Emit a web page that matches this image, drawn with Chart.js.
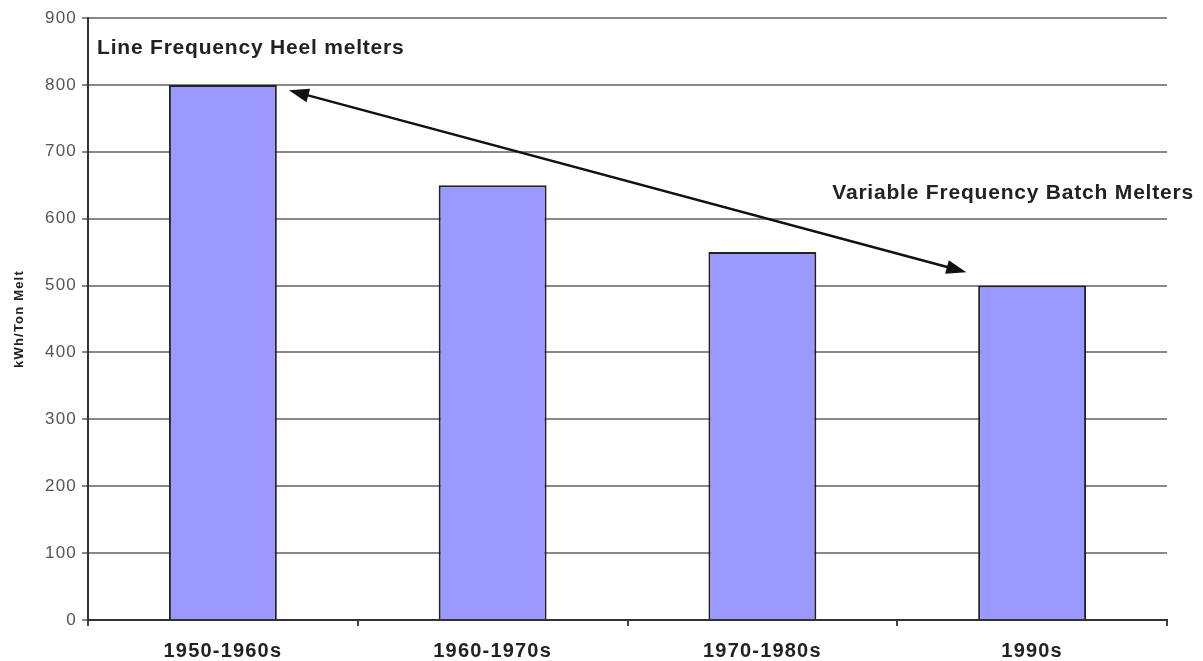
<!DOCTYPE html>
<html>
<head>
<meta charset="utf-8">
<script src="https://cdn.jsdelivr.net/npm/chart.js@4/dist/chart.umd.min.js"></script>
<style>
  html, body { margin: 0; padding: 0; background: #fff; }
  #wrap { width: 1203px; height: 661px; }
</style>
</head>
<body>
<div id="wrap"><canvas id="meltChart" width="1203" height="661"></canvas></div>
<script>
// Energy use per ton melted, by era
const eras = ['1950-1960s', '1960-1970s', '1970-1980s', '1990s'];
const kwhPerTon = [800, 650, 550, 500];
const yTicks = [0, 100, 200, 300, 400, 500, 600, 700, 800, 900];

// arrow ends in data units: [category position, value]
const arrowFrom = [0.245, 792];
const arrowTo = [2.756, 520];

const notes = [
  { text: 'Line Frequency Heel melters', at: [-0.5, 855], dx: 9 },
  { text: 'Variable Frequency Batch Melters', at: [2.5, 638], dx: -65 }
];

const FONT = '"Liberation Sans", Arial, sans-serif';

function head(ctx, x, y, ang) {
  const len = 20, w = 7;
  ctx.beginPath();
  ctx.moveTo(x, y);
  ctx.lineTo(x - len * Math.cos(ang) + w * Math.sin(ang), y - len * Math.sin(ang) - w * Math.cos(ang));
  ctx.lineTo(x - len * Math.cos(ang) - w * Math.sin(ang), y - len * Math.sin(ang) + w * Math.cos(ang));
  ctx.closePath();
  ctx.fill();
}

// slightly wider lettering for all axis text
const spacing = {
  id: 'spacing',
  beforeUpdate(chart) { chart.ctx.letterSpacing = '1.2px'; },
  beforeDraw(chart) { chart.ctx.letterSpacing = '1.2px'; }
};

const annotate = {
  id: 'annotate',
  afterDatasetsDraw(chart) {
    const { ctx, scales: { x, y } } = chart;
    const x1 = x.getPixelForValue(arrowFrom[0]), y1 = y.getPixelForValue(arrowFrom[1]);
    const x2 = x.getPixelForValue(arrowTo[0]), y2 = y.getPixelForValue(arrowTo[1]);
    const ang = Math.atan2(y2 - y1, x2 - x1);
    ctx.save();
    ctx.strokeStyle = '#111';
    ctx.fillStyle = '#111';
    ctx.lineWidth = 2.5;
    ctx.beginPath();
    ctx.moveTo(x1 + 14 * Math.cos(ang), y1 + 14 * Math.sin(ang));
    ctx.lineTo(x2 - 14 * Math.cos(ang), y2 - 14 * Math.sin(ang));
    ctx.stroke();
    head(ctx, x2, y2, ang);
    head(ctx, x1, y1, ang + Math.PI);

    ctx.font = 'bold 21px ' + FONT;
    ctx.letterSpacing = '0.8px';
    ctx.fillStyle = '#222';
    ctx.textBaseline = 'middle';
    ctx.textAlign = 'left';
    notes.forEach(n => {
      ctx.fillText(n.text, x.getPixelForValue(n.at[0]) + n.dx, y.getPixelForValue(n.at[1]));
    });
    ctx.restore();
  }
};

new Chart(document.getElementById('meltChart'), {
  type: 'bar',
  data: {
    labels: eras,
    datasets: [{
      label: 'kWh/Ton Melt',
      data: kwhPerTon,
      backgroundColor: '#9999FF',
      borderColor: '#222',
      borderWidth: 2,
      barPercentage: 0.4,
      categoryPercentage: 1
    }]
  },
  options: {
    responsive: false,
    animation: false,
    layout: { padding: { top: 18, right: 36, left: 12, bottom: 0 } },
    plugins: { legend: { display: false }, tooltip: { enabled: false } },
    scales: {
      x: {
        grid: { display: true, drawOnChartArea: false, offset: true, color: '#444', lineWidth: 2, tickLength: 6 },
        border: { color: '#333', width: 2 },
        ticks: { color: '#222', font: { family: FONT, size: 20, weight: 'bold' }, padding: 13 },
        afterFit(scale) { scale.height = 41; }
      },
      y: {
        min: 0,
        max: 900,
        afterBuildTicks(scale) { scale.ticks = yTicks.map(v => ({ value: v })); },
        grid: { color: '#888', lineWidth: 2, tickLength: 6 },
        border: { color: '#333', width: 2 },
        ticks: { color: '#555', font: { family: FONT, size: 17 }, padding: 5 },
        title: {
          display: true,
          text: 'kWh/Ton Melt',
          color: '#222',
          font: { family: FONT, size: 13, weight: 'bold' },
          padding: { top: 0, bottom: 8 }
        },
        afterFit(scale) { scale.width = 76; }
      }
    }
  },
  plugins: [spacing, annotate]
});
</script>
</body>
</html>
